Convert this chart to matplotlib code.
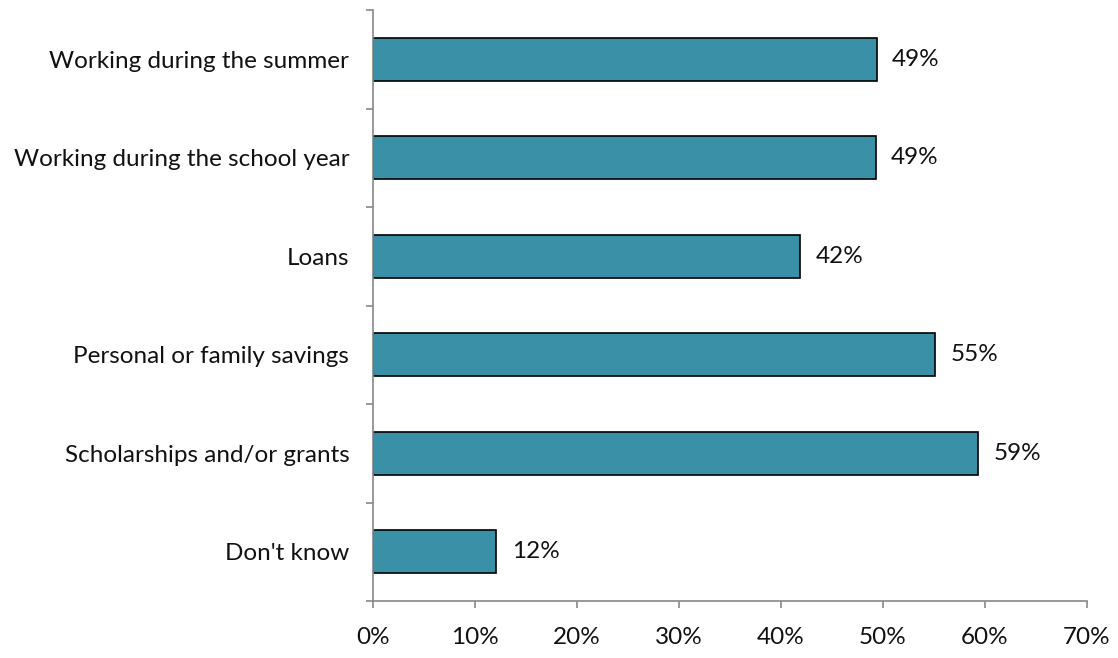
import numpy as np
import matplotlib.pyplot as plt
from matplotlib.ticker import FixedLocator, PercentFormatter

# data (top to bottom as in the chart)
categories = ["Working during the summer", "Working during the school year", "Loans",
              "Personal or family savings", "Scholarships and/or grants", "Don't know"]
values = [49.4, 49.3, 41.9, 55.1, 59.3, 12.1]
labels = ["49%", "49%", "42%", "55%", "59%", "12%"]

plt.rcParams['font.family'] = ['Lato', 'DejaVu Sans']
fs = 17.5

fig = plt.figure(figsize=(11.18, 6.58), dpi=100)
ax = fig.add_axes([0.3336, 0.0866, 0.9723 - 0.3336, 0.9848 - 0.0866])

n = len(categories)
ypos = np.arange(n)[::-1]
ax.barh(ypos, values, height=0.44, color='#3A90A6', edgecolor='black', linewidth=1.2)

for y, v, lab in zip(ypos, values, labels):
    ax.annotate(lab, (v, y), xytext=(11, 0), textcoords='offset points',
                va='center', ha='left', fontsize=fs, color='#111111')

ax.set_xlim(0, 70)
ax.set_ylim(-0.5, n - 0.5)
ax.set_xticks(np.arange(0, 71, 10))
ax.xaxis.set_major_formatter(PercentFormatter(decimals=0))
ax.set_yticks(ypos)
ax.set_yticklabels(categories)
ax.yaxis.set_minor_locator(FixedLocator(np.arange(-0.5, n, 1.0)))

for s in ['top', 'right']:
    ax.spines[s].set_visible(False)
for s in ['left', 'bottom']:
    ax.spines[s].set_color('#888888')
    ax.spines[s].set_linewidth(1.2)

ax.tick_params(axis='y', which='major', length=0, pad=17, labelsize=fs, labelcolor='#111111')
ax.tick_params(axis='y', which='minor', length=5, width=1.2, color='#888888', direction='out')
ax.tick_params(axis='x', which='major', length=5, width=1.2, color='#888888', direction='out',
               pad=14, labelsize=fs, labelcolor='#111111')

fig.savefig('out.png', dpi=100)
